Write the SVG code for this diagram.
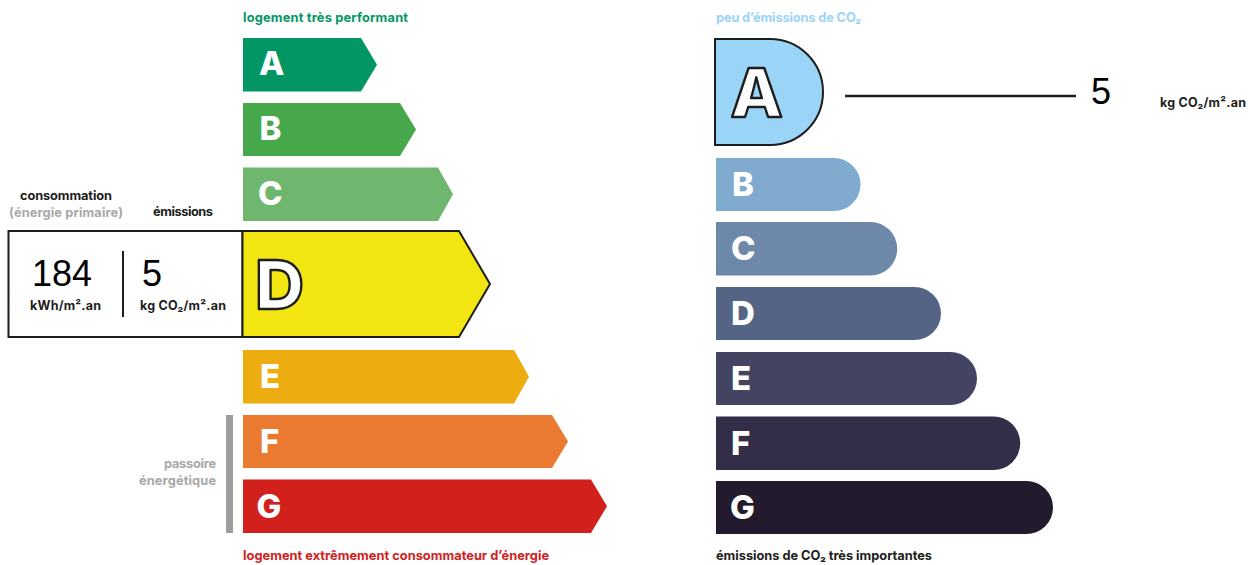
<svg xmlns="http://www.w3.org/2000/svg" width="1253" height="565" viewBox="0 0 1253 565">
<style>
text{font-family:Inter,"Noto Sans",sans-serif}
.cap{font-size:12.8px;font-weight:700}
.unit{font-size:12.5px;font-weight:700;fill:#1d1d1b}
.num{font-family:"Liberation Sans",Arial,sans-serif;font-size:36px;fill:#000}
.l{font-size:33px;font-weight:800;fill:#fff}
.big{font-size:68px;font-weight:800;fill:#fff;stroke:#1d1d1b;stroke-width:2.4px;stroke-linejoin:round}
.box{stroke:#1d1d1b;stroke-width:2px}
</style>
<rect width="1253" height="565" fill="#fff"/>
<g id="energy-labels">
<text class="cap" x="243" y="22" textLength="165" fill="#029664">logement très performant</text>
<text class="cap" x="243" y="560" textLength="306" fill="#d2201d">logement extrêmement consommateur d’énergie</text>
<text class="cap" x="20" y="200" textLength="92" fill="#1d1d1b">consommation</text>
<text class="cap" x="9" y="217" textLength="114" fill="#a8a8a8">(énergie primaire)</text>
<text class="cap" x="153" y="216" textLength="60" fill="#1d1d1b">émissions</text>
</g>
<g id="energy-A"><polygon points="243,38 361,38 377,64.7 361,91.5 243,91.5" fill="#029664"/><text class="l" x="259" y="75">A</text></g>
<g id="energy-B"><polygon points="243,103 400,103 416,129.5 400,156 243,156" fill="#47a84b"/><text class="l" x="259.500" y="140">B</text></g>
<g id="energy-C"><polygon points="243,167.5 438,167.5 453,194.2 438,221 243,221" fill="#6fb76f"/><text class="l" x="258" y="205">C</text></g>
<g id="reading">
<rect class="box" x="8.500" y="231" width="234" height="106" fill="#fff"/>
<line x1="123" y1="251" x2="123" y2="317" stroke="#1d1d1b" stroke-width="2"/>
<text class="num" x="32" y="286">184</text>
<text class="num" x="142" y="286">5</text>
<text class="unit" x="30" y="310" textLength="71">kWh/m².an</text>
<text class="unit" x="140" y="310" textLength="86">kg CO₂/m².an</text>
</g>
<g id="energy-D"><polygon class="box" points="242.500,231 459,231 490,284 459,337 242.500,337" fill="#f2e511"/><text class="big" x="255" y="309">D</text></g>
<g id="energy-E"><polygon points="243,350 514,350 529,376.700 514,403.500 243,403.500" fill="#edac10"/><text class="l" x="260" y="388">E</text></g>
<g id="energy-F"><polygon points="243,415 552,415 568,441.500 552,468 243,468" fill="#e97a30"/><text class="l" x="260" y="453">F</text></g>
<g id="energy-G"><polygon points="243,479.500 591,479.500 607,506.200 591,533 243,533" fill="#d2201d"/><text class="l" x="256.500" y="518">G</text></g>
<g id="passoire">
<rect x="226" y="415" width="7" height="118" fill="#9d9d9c"/>
<text class="cap" x="164" y="468" textLength="52" fill="#a8a8a8">passoire</text>
<text class="cap" x="139" y="485" textLength="77" fill="#a8a8a8">énergétique</text>
</g>
<g id="climate-labels">
<text class="cap" x="716" y="22" textLength="145" fill="#9ad5f7">peu d’émissions de CO₂</text>
<text class="cap" x="716" y="560" textLength="216" fill="#1d1d1b">émissions de CO₂ très importantes</text>
</g>
<g id="climate-A"><path class="box" d="M715 39H770A53 53 0 0 1 770 145H715Z" fill="#9ad5f7"/><text class="big" x="730.500" y="117">A</text></g>
<g id="climate-B"><path d="M716 158H834A26.500 26.500 0 0 1 834 211H716Z" fill="#80aace"/><text class="l" x="732" y="196">B</text></g>
<g id="climate-C"><path d="M716 222H870.500A26.700 26.700 0 0 1 870.500 275.500H716Z" fill="#6e88aa"/><text class="l" x="731" y="260">C</text></g>
<g id="climate-D"><path d="M716 287H914.500A26.500 26.500 0 0 1 914.500 340H716Z" fill="#556384"/><text class="l" x="731" y="325">D</text></g>
<g id="climate-E"><path d="M716 352H950.500A26.500 26.500 0 0 1 950.500 405H716Z" fill="#434362"/><text class="l" x="731" y="390">E</text></g>
<g id="climate-F"><path d="M716 416.500H993.500A26.700 26.700 0 0 1 993.500 470H716Z" fill="#332d48"/><text class="l" x="731" y="455">F</text></g>
<g id="climate-G"><path d="M716 481H1026.500A26.500 26.500 0 0 1 1026.500 534H716Z" fill="#231a2e"/><text class="l" x="730" y="519">G</text></g>
<g id="connectors"><line x1="845" y1="96" x2="1076" y2="96" stroke="#1d1d1b" stroke-width="2.500"/></g>
<g id="climate-value">
<text class="num" x="1091" y="104">5</text>
<text class="unit" x="1160" y="107" textLength="86">kg CO₂/m².an</text>
</g>
</svg>
